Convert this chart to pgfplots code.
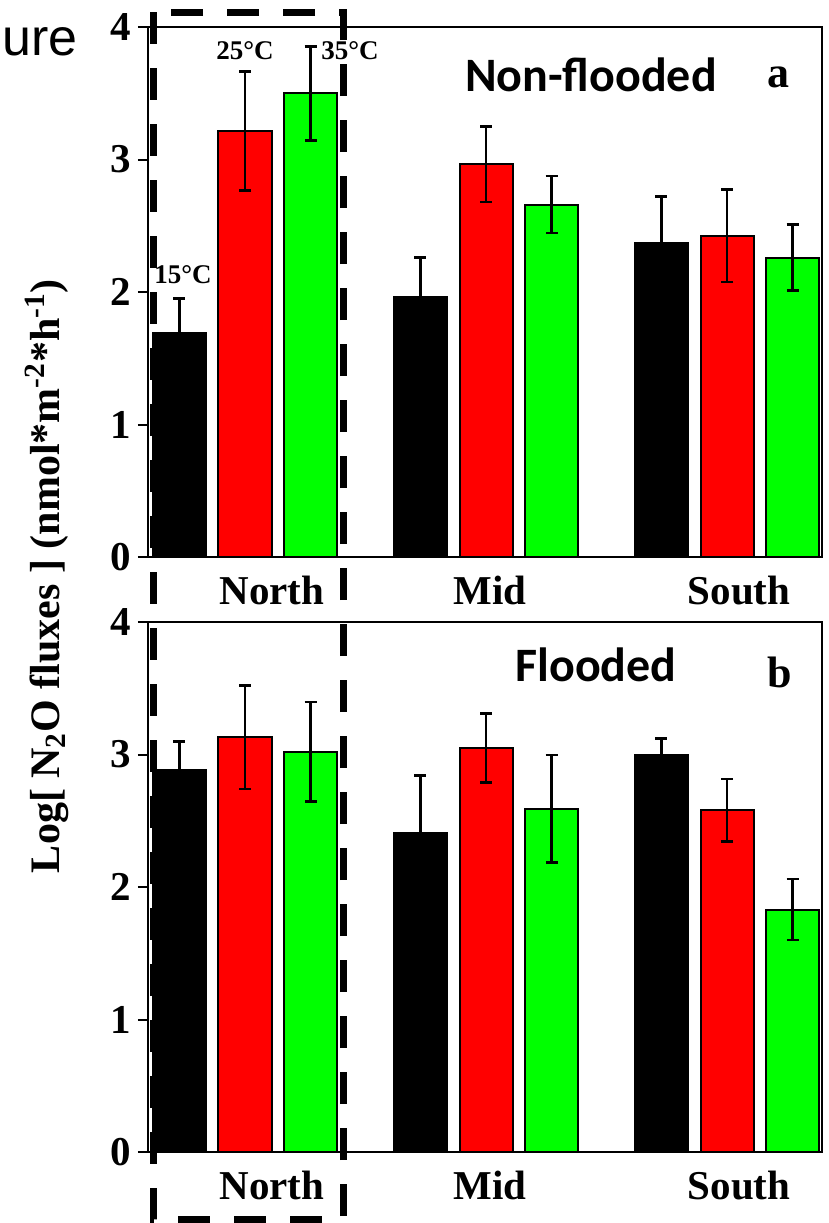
\documentclass[border=0pt]{standalone}
\usepackage{fontspec}
\setmainfont{Liberation Serif}
\newfontfamily\calibri{Carlito}
\newfontfamily\arial{Liberation Sans}
\usepackage{pgfplots}
\usepackage{pgfplotstable}
\pgfplotsset{compat=1.18}
\definecolor{pgreen}{RGB}{0,255,0}
\definecolor{pred}{RGB}{255,0,0}

\pgfplotstableread{
x k ke r re g ge
0 1.69 0.26 3.215 0.45 3.50 0.355
1 1.96 0.30 2.965 0.285 2.66 0.215
2 2.37 0.35 2.425 0.35 2.26 0.25
}\nonflooded

\pgfplotstableread{
x k ke r re g ge
0 2.88 0.22 3.13 0.39 3.02 0.375
1 2.41 0.43 3.05 0.26 2.59 0.405
2 3.00 0.12 2.58 0.235 1.83 0.23
}\flooded

\pgfplotsset{
  myaxis/.style={
    scale only axis, width=337pt, height=265pt,
    xmin=-0.4025, xmax=2.394, ymin=0, ymax=4,
    xtick={0.112,1.017,2.05}, xticklabels={North,Mid,South},
    ytick={0,1,2,3,4},
    tick align=outside, ytick pos=left,
    major tick length=5pt,
    axis line style={line width=1pt},
    ytick style={line width=1pt, black},
    xtick style={draw=none},
    ticklabel style={font=\bfseries\fontsize{20.5}{20.5}\selectfont},
    xticklabel style={yshift=-1pt},
    /pgf/number format/assume math mode=true,
    ybar, bar width=0.22,
    clip=false,
  },
  errstyle/.style={error bars/.cd, y dir=both, y explicit,
    error bar style={line width=1.3pt, black},
    error mark options={rotate=90, mark size=3pt, line width=1.3pt, black}},
}

\begin{document}
\begin{tikzpicture}
% top panel
\begin{axis}[myaxis, at={(74pt,-278.5pt)}, anchor=south west]
\addplot[fill=black, draw=black, line width=1pt, bar shift=-0.272, errstyle] table[x=x, y=k, y error=ke] {\nonflooded};
\addplot[fill=pred, draw=black, line width=1pt, bar shift=0, errstyle] table[x=x, y=r, y error=re] {\nonflooded};
\addplot[fill=pgreen, draw=black, line width=1pt, bar shift=0.272, errstyle] table[x=x, y=g, y error=ge] {\nonflooded};
\end{axis}
% bottom panel
\begin{axis}[myaxis, at={(74pt,-576pt)}, anchor=south west]
\addplot[fill=black, draw=black, line width=1pt, bar shift=-0.272, errstyle] table[x=x, y=k, y error=ke] {\flooded};
\addplot[fill=pred, draw=black, line width=1pt, bar shift=0, errstyle] table[x=x, y=r, y error=re] {\flooded};
\addplot[fill=pgreen, draw=black, line width=1pt, bar shift=0.272, errstyle] table[x=x, y=g, y error=ge] {\flooded};
\end{axis}

% texts
\node[anchor=base west, inner sep=0pt, font=\arial\fontsize{26}{26}\selectfont] at (1pt,-27.5pt) {ure};
\node[anchor=base, inner sep=0pt, font=\calibri\bfseries\fontsize{24}{24}\selectfont] at (295.5pt,-45.5pt) {Non-flooded};
\node[anchor=base, inner sep=0pt, font=\bfseries\fontsize{22}{22}\selectfont] at (389pt,-43.5pt) {a};
\node[anchor=base, inner sep=0pt, font=\calibri\bfseries\fontsize{24}{24}\selectfont] at (298pt,-340.5pt) {Flooded};
\node[anchor=base, inner sep=0pt, font=\bfseries\fontsize{22}{22}\selectfont] at (390pt,-343.5pt) {b};
\node[anchor=base, inner sep=0pt, font=\bfseries\fontsize{13.5}{13.5}\selectfont] at (122.5pt,-29.5pt) {25°C};
\node[anchor=base, inner sep=0pt, font=\bfseries\fontsize{13.5}{13.5}\selectfont] at (175pt,-29.5pt) {35°C};
\node[anchor=base, inner sep=0pt, font=\bfseries\fontsize{13.5}{13.5}\selectfont] at (91.5pt,-141.5pt) {15°C};
\node[rotate=90, inner sep=0pt, font=\bfseries\fontsize{21}{21}\selectfont] at (23.5pt,-288pt) {Log[ N\textsubscript{2}O fluxes ] (nmol*m\textsuperscript{-2}*h\textsuperscript{-1})};

% dashed highlight box
\draw[line width=3.5pt, dash pattern=on 16pt off 12pt] (76.5pt,-6pt) rectangle (171.5pt,-609.5pt);

\pgfresetboundingbox
\path[use as bounding box] (0,0) rectangle (414.5pt,-611.5pt);
\end{tikzpicture}
\end{document}
